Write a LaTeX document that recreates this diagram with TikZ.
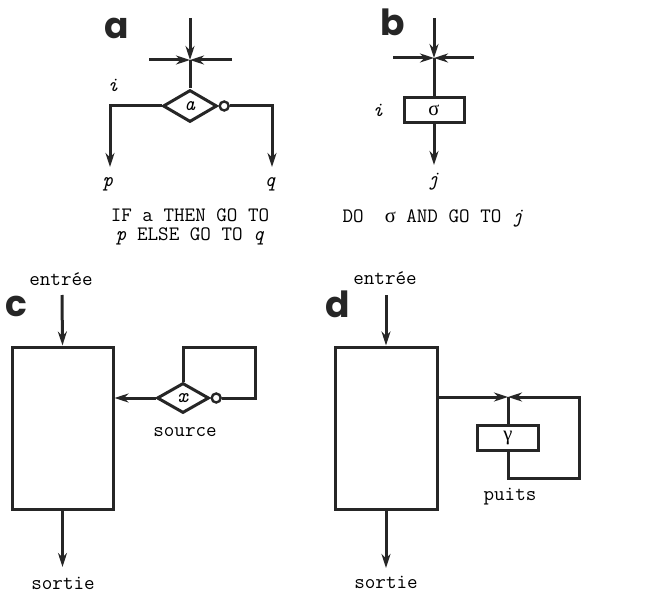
\documentclass[tikz,border=0pt]{standalone}
\usepackage{fontspec}
\newfontfamily\greekfont{Liberation Serif}
\newfontfamily\panelfont{Poppins}
\usetikzlibrary{positioning, arrows.meta, shapes.geometric}

\begin{document}
\begin{tikzpicture}[
  x=1pt, y=-1pt,
  font=\ttfamily\fontsize{20.5}{22}\selectfont,
  >={Stealth[length=14pt, width=9pt]},
  flowline/.style={line width=3pt, draw=black!85},
  flowarrow/.style={flowline, ->},
  testdiamond/.style={diamond, draw=black!85, line width=3pt, minimum width=54pt, minimum height=32pt, inner sep=0pt},
  actbox/.style={rectangle, draw=black!85, line width=3pt, minimum width=60pt, minimum height=25pt, inner sep=0pt},
  blockbox/.style={rectangle, draw=black!85, line width=3pt, minimum width=101pt, minimum height=162pt},
  negdot/.style={circle, draw=black!85, line width=2.4pt, fill=white, minimum size=9pt, inner sep=0pt},
  panellabel/.style={font=\panelfont\bfseries\fontsize{36}{36}\selectfont, text=black!85},
  varlabel/.style={font=\ttfamily\itshape\fontsize{20.5}{22}\selectfont}
]
\useasboundingbox (0,0) rectangle (671,601);

% Panel a: test
\node[panellabel] (labA) at (117,28) {a};
\coordinate (inA) at (190,18);
\coordinate (joinA) at (190,60);
\coordinate (leftA) at (149,60);
\coordinate (rightA) at (232,60);
\node[testdiamond] (testA) at (190,106) {\textit{a}};
\node[negdot, anchor=west] (notA) at (testA.east) {};
\coordinate (outP) at (110,167);
\coordinate (outQ) at (272,167);
\node[varlabel] (iA) at (113,85) {i};
\node[varlabel] (p) at (108,184) {p};
\node[varlabel] (q) at (270,184) {q};

\draw[flowarrow] (inA) -- (joinA);
\draw[flowarrow] (leftA) -- (joinA);
\draw[flowarrow] (rightA) -- (joinA);
\draw[flowline] (joinA) -- (testA.north);
\draw[flowarrow] (testA.west) -| (outP);
\draw[flowarrow] (notA.east) -| (outQ);

\node[align=center, font=\ttfamily\fontsize{20.5}{19}\selectfont] (ifA) at (190,227)
  {IF a THEN GO TO\\\textit{p} ELSE GO TO \textit{q}};

% Panel b: action
\node[panellabel] (labB) at (393,22) {b};
\coordinate (inB) at (434,18);
\coordinate (joinB) at (434,58);
\coordinate (leftB) at (393,58);
\coordinate (rightB) at (474,58);
\node[actbox] (actB) at (434,110) {\greekfont σ};
\coordinate (outJ) at (434,165);
\node[varlabel] (iB) at (378,110) {i};
\node[varlabel] (j) at (433,182) {j};

\draw[flowarrow] (inB) -- (joinB);
\draw[flowarrow] (leftB) -- (joinB);
\draw[flowarrow] (rightB) -- (joinB);
\draw[flowline] (joinB) -- (actB.north);
\draw[flowarrow] (actB.south) -- (outJ);

\node[anchor=west] (doB) at (339,218) {DO~~{\greekfont σ} AND GO TO \textit{j}};

% Panel c: source
\node[panellabel] (labC) at (16,306) {c};
\node (inC) at (61,279) {entrée};
\coordinate (topC) at (62,295);
\node[blockbox] (blockC) at (62.5,428) {};
\node[testdiamond, minimum width=52pt, minimum height=30pt] (testC) at (183,398) {\textit{x}};
\node[negdot, anchor=west] (notC) at (testC.east) {};
\coordinate (loopC) at (255,347);
\coordinate (botC) at (62.5,567);
\node (srcC) at (185,432) {source};
\node (outC) at (63,583) {sortie};

\draw[flowarrow] (topC) -- (blockC.north);
\draw[flowarrow] (testC.west) -- (blockC.east |- testC.west);
\draw[flowline] (testC.north) |- (loopC) |- (notC.east);
\draw[flowarrow] (blockC.south) -- (botC);

% Panel d: puits
\node[panellabel] (labD) at (338,304) {d};
\node (inD) at (385,278) {entrée};
\coordinate (topD) at (386,295);
\node[blockbox, minimum width=102pt] (blockD) at (386,428) {};
\coordinate (joinD) at (508,397);
\node[actbox, minimum width=61pt] (actD) at (508,437.5) {\greekfont γ};
\coordinate (loopD) at (579,478);
\coordinate (botD) at (386,568);
\node (puitsD) at (510,497) {puits};
\node (outD) at (386,582) {sortie};

\draw[flowarrow] (topD) -- (blockD.north);
\draw[flowarrow] (blockD.east |- joinD) -- (joinD);
\draw[flowline] (joinD) -- (actD.north);
\draw[flowarrow] (actD.south) |- (loopD) |- (joinD);
\draw[flowarrow] (blockD.south) -- (botD);

\end{tikzpicture}
\end{document}
